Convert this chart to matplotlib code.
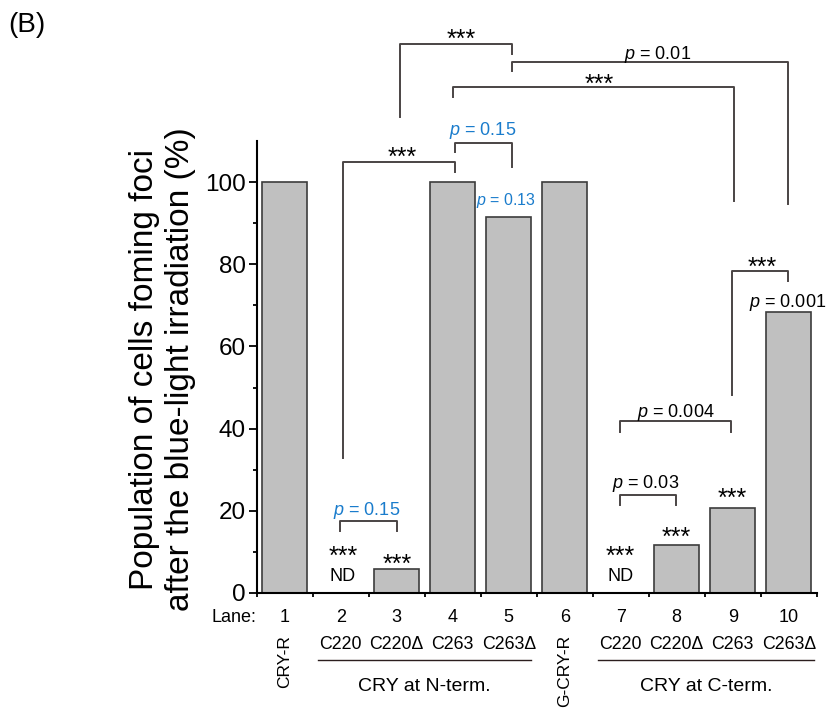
import matplotlib
matplotlib.use('Agg')
import matplotlib.pyplot as plt
import matplotlib.transforms as mtransforms
import numpy as np

plt.rcParams['font.family'] = ['Liberation Sans', 'DejaVu Sans']
plt.rcParams['mathtext.fontset'] = 'custom'
plt.rcParams['mathtext.rm'] = 'Liberation Sans'
plt.rcParams['mathtext.it'] = 'Liberation Sans:italic'

# data
lanes = [1, 2, 3, 4, 5, 6, 7, 8, 9, 10]
values = [100, 0, 5.8, 100, 91.6, 100, 0, 11.8, 20.6, 68.3]
lane_names = ['CRY-R', 'C220', 'C220Δ', 'C263', 'C263Δ', 'G-CRY-R', 'C220', 'C220Δ', 'C263', 'C263Δ']
rotated_names = ['CRY-R', 'G-CRY-R']
groups = ['CRY at N-term.', 'CRY at C-term.']
group_spans = [(1.6, 5.4), (6.6, 10.45)]

# brackets: x1, x2, top, left leg bottom, right leg bottom
brackets = [
    (2.04, 4.04, 105.0, 32.9, 102.5),
    (4.04, 5.05, 109.6, 107.2, 103.7),
    (3.05, 5.05, 133.7, 115.9, 131.2),
    (5.05, 9.99, 129.1, 127.0, 94.7),
    (4.00, 9.03, 123.1, 120.8, 95.4),
    (8.98, 9.98, 78.4, 48.2, 75.9),
    (6.98, 8.97, 41.9, 39.2, 39.2),
    (1.99, 3.00, 17.4, 15.1, 15.1),
    (6.99, 7.99, 23.9, 21.4, 21.4),
]
# annotation texts: text, x, baseline y, colour, size
blue = '#1a7ccc'
notes = [
    ('***', 3.1, 104.3, 'k', 18),
    ('$p$ = 0.15', 4.54, 111.5, blue, 13),
    ('***', 4.15, 133.0, 'k', 18),
    ('$p$ = 0.01', 7.66, 130.0, 'k', 13),
    ('***', 6.62, 122.0, 'k', 18),
    ('***', 9.52, 77.5, 'k', 18),
    ('$p$ = 0.004', 7.99, 42.9, 'k', 13),
    ('$p$ = 0.15', 2.46, 19.0, blue, 13),
    ('$p$ = 0.03', 7.44, 25.5, 'k', 13),
    ('***', 2.05, 7.1, 'k', 18),
    ('ND', 2.03, 3.0, 'k', 13),
    ('***', 3.01, 5.1, 'k', 18),
    ('***', 7.0, 7.0, 'k', 18),
    ('ND', 7.0, 3.0, 'k', 13),
    ('***', 8.0, 11.6, 'k', 18),
    ('***', 9.0, 21.2, 'k', 18),
    ('$p$ = 0.13', 4.95, 94.5, blue, 11.5),
    ('$p$ = 0.001', 9.98, 69.7, 'k', 13),
]

fig = plt.figure(figsize=(8.3, 7.16), dpi=100)
ax = fig.add_axes([0.3093, 0.1718, 0.6747, 0.6313])

ax.bar(lanes, values, width=0.8, color='#c0c0c0', edgecolor='#3c3c3c', linewidth=1.2)
ax.set_xlim(0.5, 10.5)
ax.set_ylim(0, 110)
ax.spines['top'].set_visible(False)
ax.spines['right'].set_visible(False)
ax.spines['left'].set_linewidth(1.5)
ax.spines['bottom'].set_linewidth(1.5)
ax.set_yticks(np.arange(0, 101, 20))
ax.set_yticks(np.arange(10, 101, 20), minor=True)
ax.tick_params(axis='y', which='major', length=6, width=1.3, labelsize=17.5, pad=2)
ax.tick_params(axis='y', which='minor', length=3, width=1.3)
ax.set_xticks(np.arange(0.5, 10.6, 1))
ax.set_xticklabels([])
ax.tick_params(axis='x', length=3, width=1.3)

fig.text(0.196, 0.4846, 'Population of cells foming foci\nafter the blue-light irradiation (%)',
         rotation=90, ha='center', va='center', fontsize=24, multialignment='center')
fig.text(0.01, 0.965, '(B)', fontsize=20, ha='left', va='center')

lc = '#4a4444'
for x1, x2, top, b1, b2 in brackets:
    ax.plot([x1, x1, x2, x2], [b1, top, top, b2], color=lc, lw=1.4, clip_on=False)
for s, x, y, c, fs in notes:
    ax.text(x, y, s, color=c, fontsize=fs, ha='center', va='baseline', clip_on=False)

tr = mtransforms.blended_transform_factory(ax.transData, fig.transFigure)
ax.text(0.5, 0.1378, 'Lane:', transform=tr, ha='right', va='center', fontsize=13)
for lane, name in zip(lanes, lane_names):
    ax.text(lane, 0.1378, str(lane), transform=tr, ha='center', va='center', fontsize=13)
    if name in rotated_names:
        ax.text(lane, 0.1131, name, transform=tr, ha='center', va='top', rotation=90, fontsize=12.5)
    else:
        ax.text(lane, 0.1001, name, transform=tr, ha='center', va='center', fontsize=12.8)
for g, (x1, x2) in zip(groups, group_spans):
    ax.plot([x1, x2], [0.0782, 0.0782], transform=tr, color='#2b1e1e', lw=1, clip_on=False)
    ax.text((x1 + x2) / 2, 0.0409, g, transform=tr, ha='center', va='center', fontsize=14)

plt.savefig('out.png', dpi=100)
